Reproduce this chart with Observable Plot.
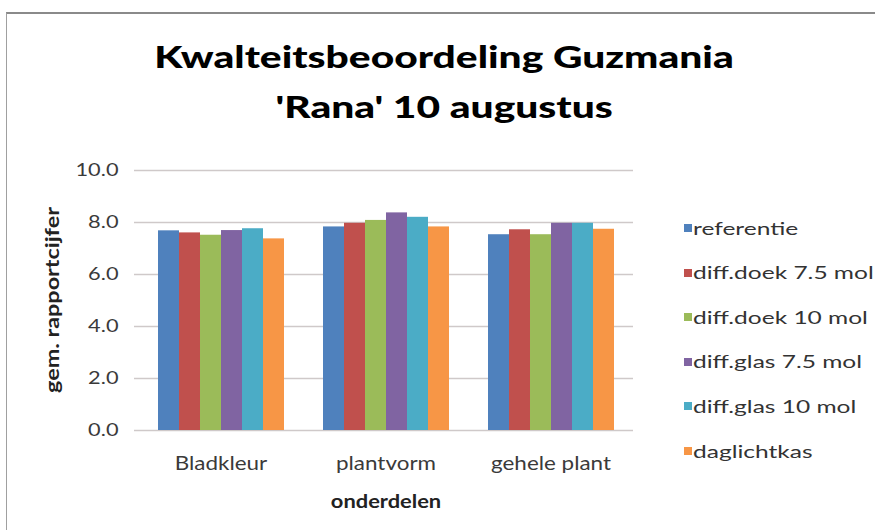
<!DOCTYPE html>
<html>
<head>
<meta charset="utf-8">
<script src="https://cdn.jsdelivr.net/npm/d3@7"></script>
<script src="https://cdn.jsdelivr.net/npm/@observablehq/plot@0.6"></script>
<style>
  html, body { margin: 0; padding: 0; background: #fff; }
  body { width: 875px; height: 530px; position: relative; overflow: hidden; font-family: Lato, "Open Sans", sans-serif; }
  #frame { position: absolute; left: 6px; top: 12px; width: 880px; height: 530px; border-top: 2px solid #8a8a8a; border-left: 1px solid #a0a0a0; box-sizing: border-box; }
  #title { position: absolute; left: 0; top: 32px; width: 888px; text-align: center; font-weight: 900; font-size: 29.5px; line-height: 50px; color: #000; }
  #title span { display: inline-block; transform: scaleX(1.38); transform-origin: 50% 50%; white-space: nowrap; }
  #ylabel { position: absolute; left: -48px; top: 289px; width: 200px; line-height: 22px; text-align: center; font-weight: bold; font-size: 18px; color: #222; transform: rotate(-90deg) scaleX(1.3); transform-origin: 50% 50%; }
  #chart { position: absolute; left: 0; top: 150px; }
  #legend { position: absolute; left: 684px; top: 0; }
  .item { position: absolute; white-space: nowrap; font-size: 17.5px; color: #333; }
  .sw { position: absolute; left: 0; width: 8px; height: 8px; }
  .lbl { position: absolute; left: 9px; top: -6.5px; line-height: 21px; transform: scaleX(1.4); transform-origin: 0 50%; }
  g[aria-label="fx-axis label"] text { font-weight: bold; fill: #222; }
</style>
</head>
<body>
<div id="frame"></div>
<div id="title"><span>Kwalteitsbeoordeling Guzmania</span><br><span>'Rana' 10 augustus</span></div>
<div id="chart"></div>
<div id="ylabel">gem. rapportcijfer</div>
<div id="legend"></div>
<script>
const groups = ["Bladkleur", "plantvorm", "gehele plant"];
const series = ["referentie", "diff.doek 7.5 mol", "diff.doek 10 mol", "diff.glas 7.5 mol", "diff.glas 10 mol", "daglichtkas"];
const colors = ["#4F81BD", "#C0504D", "#9BBB59", "#8064A2", "#4BACC6", "#F79646"];
const referentie  = [7.68, 7.83, 7.53];
const diffDoek75  = [7.60, 7.97, 7.72];
const diffDoek10  = [7.51, 8.08, 7.53];
const diffGlas75  = [7.69, 8.37, 7.97];
const diffGlas10  = [7.76, 8.20, 7.97];
const daglichtkas = [7.37, 7.83, 7.74];
const yTicks = [0, 2, 4, 6, 8, 10];

const valuesBySeries = [referentie, diffDoek75, diffDoek10, diffGlas75, diffGlas10, daglichtkas];
const data = [];
groups.forEach((g, gi) => series.forEach((s, si) => data.push({group: g, series: s, value: valuesBySeries[si][gi]})));

const gridColor = "#cfc9c9";
const chart = Plot.plot({
  width: 660,
  height: 380,
  marginLeft: 137,
  marginRight: 26,
  marginTop: 20,
  marginBottom: 100,
  style: {fontFamily: "Lato, 'Open Sans', sans-serif", fontSize: "18px", color: "#3a3a3a", background: "transparent"},
  fx: {domain: groups, padding: 0},
  x: {domain: series, paddingInner: 0, paddingOuter: 0.8, axis: null},
  y: {domain: [0, 10]},
  color: {domain: series, range: colors},
  marks: [
    Plot.gridY(yTicks, {stroke: gridColor, strokeOpacity: 1, strokeWidth: 1.5}),
    Plot.barY(data, {fx: "group", x: "series", y: "value", fill: "series"}),
    Plot.axisY({ticks: yTicks, tickFormat: d3.format(".1f"), tickSize: 4, tickPadding: 16, stroke: gridColor, strokeWidth: 1.5, strokeOpacity: 1, fontSize: 17, line: true, label: null}),
    Plot.axisFx({anchor: "bottom", tickSize: 0, tickPadding: 26, fontSize: 19, label: "onderdelen", labelAnchor: "center", labelOffset: 77, labelArrow: "none"})
  ]
});
document.getElementById("chart").appendChild(chart);

// widen the text along its baseline to match the reference's wide lettering
function stretch(selector, factor) {
  chart.querySelectorAll(selector).forEach(t => {
    const len = t.getComputedTextLength();
    if (len > 0) {
      t.setAttribute("textLength", (len * factor).toFixed(1));
      t.setAttribute("lengthAdjust", "spacingAndGlyphs");
    }
  });
}
stretch('g[aria-label="y-axis tick label"] text', 1.28);
stretch('g[aria-label="fx-axis tick label"] text', 1.18);
stretch('g[aria-label="fx-axis label"] text', 1.15);

const legend = document.getElementById("legend");
series.forEach((s, i) => {
  const item = document.createElement("div");
  item.className = "item";
  item.style.top = (228 + 44.6 * i - 4) + "px";
  const sw = document.createElement("div");
  sw.className = "sw";
  sw.style.background = colors[i];
  const lbl = document.createElement("div");
  lbl.className = "lbl";
  lbl.textContent = s;
  item.appendChild(sw);
  item.appendChild(lbl);
  legend.appendChild(item);
});
</script>
</body>
</html>
